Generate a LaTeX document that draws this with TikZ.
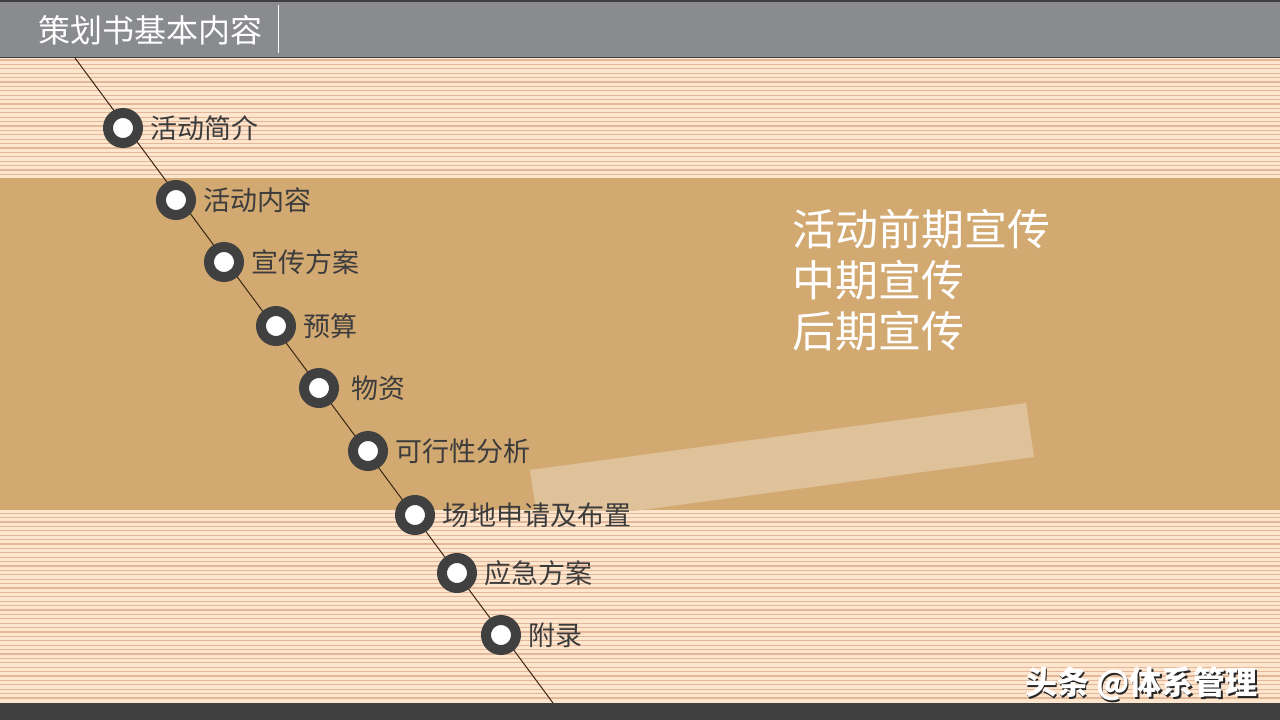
\documentclass[tikz,border=0pt]{standalone}
\usepackage{fontspec}
\setmainfont{Noto Sans CJK SC}
\usetikzlibrary{positioning}

\definecolor{headgray}{HTML}{898B8E}
\definecolor{peach}{HTML}{FDE5CE}
\definecolor{stripe}{HTML}{E3B797}
\definecolor{tan}{HTML}{D3A972}
\definecolor{lighttan}{HTML}{DFC29A}
\definecolor{ringgray}{HTML}{404040}
\definecolor{textgray}{HTML}{3C3C3C}
\definecolor{footgray}{HTML}{3F3F3F}

\begin{document}
\begin{tikzpicture}[x=1pt,y=-1pt]
                \useasboundingbox (0,0) rectangle (1280,720);
                % background
                \fill[peach] (0,58) rectangle (1280,703);
                \foreach \y in {60,64.4,...,702} \draw[stripe, line width=1.2pt] (0,\y) -- (1280,\y);
                \fill[tan] (0,178) rectangle (1280,510);
                \begin{scope}
                        \clip (0,178) rectangle (1280,510);
                        \fill[lighttan] (530,470) -- (1026,403) -- (1034,457) -- (538,524) -- cycle;
                \end{scope}
                \fill[footgray] (0,703) rectangle (1280,720);
                % header
                \fill[headgray] (0,0) rectangle (1280,58);
                \draw[footgray, line width=2pt] (0,1) -- (1280,1);
                \draw[footgray, line width=1pt] (0,57.5) -- (1280,57.5);
                \draw[white, line width=1pt] (278,5) -- (278,53);
                \node[anchor=west, white, font=\fontsize{32}{38}\selectfont, inner sep=0] (title) at (38,30) {策划书基本内容};

                % timeline
                \coordinate (top) at (75,58);
                \coordinate (bot) at (553,703);
                \draw[black!70!brown, line width=1pt] (top) -- (bot);

                \begin{scope}[every node/.style={circle, draw=ringgray, fill=white, line width=10pt, minimum size=30pt, inner sep=0}]
                        \node (c1) at (123,128) {};
                        \node (c2) at (176,200) {};
                        \node (c3) at (224,262) {};
                        \node (c4) at (276,326) {};
                        \node (c5) at (319,388) {};
                        \node (c6) at (368,451) {};
                        \node (c7) at (415,515) {};
                        \node (c8) at (457,573) {};
                        \node (c9) at (501,635) {};
                \end{scope}

                \begin{scope}[every node/.style={textgray, inner sep=0, font=\fontsize{27}{32}\selectfont}, node distance=7pt]
                        \node[right=of c1] (l1) {活动简介};
                        \node[right=of c2] (l2) {活动内容};
                        \node[right=of c3] (l3) {宣传方案};
                        \node[right=of c4] (l4) {预算};
                        \node[right=12pt of c5] (l5) {物资};
                        \node[right=of c6] (l6) {可行性分析};
                        \node[right=of c7] (l7) {场地申请及布置};
                        \node[right=of c8] (l8) {应急方案};
                        \node[right=of c9] (l9) {附录};
                \end{scope}

                % promotion text
                \node[anchor=north west, white, align=left, inner sep=0, font=\fontsize{43}{51}\selectfont] (promo) at (792,209) {活动前期宣传\\中期宣传\\后期宣传};

                % watermark
                \node[anchor=east, black!85, inner sep=0, font=\fontsize{32}{36}\selectfont\bfseries] (wmshadow) at (1259.5,685.5) {头条 @体系管理};
                \node[anchor=east, white, inner sep=0, font=\fontsize{32}{36}\selectfont\bfseries] (wm) at (1258,684) {头条 @体系管理};
\end{tikzpicture}
\end{document}
